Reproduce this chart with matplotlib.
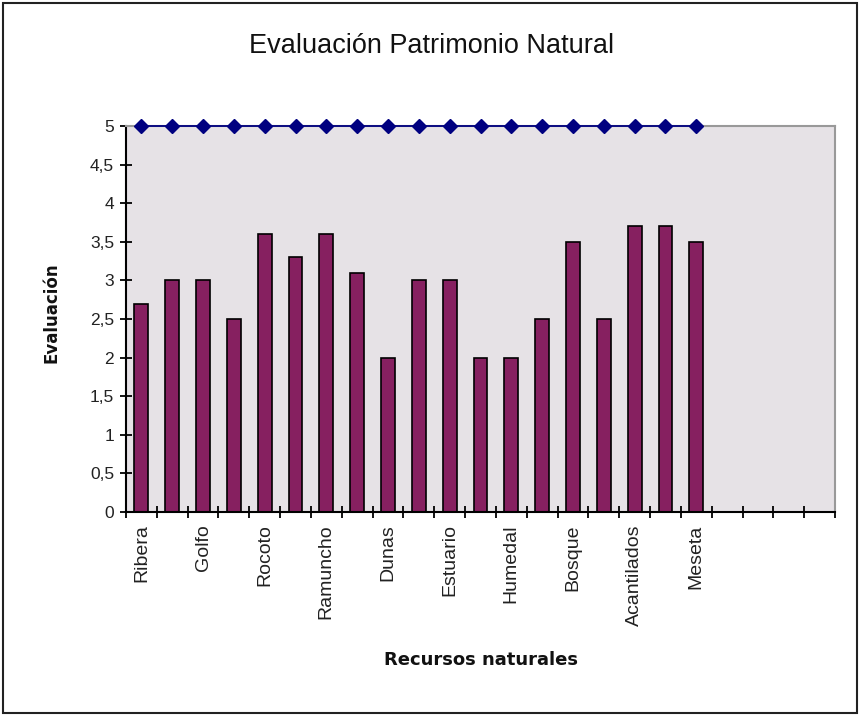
import numpy as np
import matplotlib
matplotlib.use("Agg")
import matplotlib.pyplot as plt
from matplotlib.patches import Rectangle

# data; Excel shows only every other category label
labels = ["Ribera", "", "Golfo", "", "Rocoto", "", "Ramuncho", "", "Dunas", "",
          "Estuario", "", "Humedal", "", "Bosque", "", "Acantilados", "", "Meseta"]
evaluacion = [2.7, 3.0, 3.0, 2.5, 3.6, 3.3, 3.6, 3.1, 2.0, 3.0,
              3.0, 2.0, 2.0, 2.5, 3.5, 2.5, 3.7, 3.7, 3.5]
maximo = [5] * len(evaluacion)
n_slots = 23  # axis has 4 empty categories after the last bar
yticks = [0, 0.5, 1, 1.5, 2, 2.5, 3, 3.5, 4, 4.5, 5]

plt.rcParams["font.family"] = ["Liberation Sans", "DejaVu Sans"]

fig = plt.figure(figsize=(8.63, 7.15), dpi=100)
fig.patches.append(Rectangle((3 / 863, 2 / 715), 854 / 863, 710 / 715, transform=fig.transFigure,
                             fill=False, edgecolor="#222222", lw=1.5))
ax = fig.add_axes([126 / 863, 1 - 512 / 715, 709 / 863, 386 / 715])
ax.set_facecolor("#E6E2E6")

x = np.arange(len(evaluacion))
ax.bar(x, evaluacion, width=0.45, color="#862060", edgecolor="black", lw=1.2, zorder=2)
ax.plot(x, maximo, color="#000080", lw=1.3, marker="D", ms=7, mec="#000080", mfc="#000080",
        zorder=3, clip_on=False)

ax.set_xlim(-0.5, n_slots - 0.5)
ax.set_ylim(0, 5)
ax.set_yticks(yticks)
ax.set_yticklabels([f"{v:g}".replace(".", ",") for v in yticks], fontsize=12.5, color="#222222")
ax.set_xticks(np.arange(n_slots + 1) - 0.5)
ax.set_xticklabels([])
ax.set_xticks(x, minor=True)
ax.set_xticklabels(labels, minor=True, rotation=90, fontsize=14, va="top", color="#222222")
ax.tick_params(axis="x", which="minor", length=0, pad=9)
ax.tick_params(axis="x", which="major", direction="inout", length=9, width=1.3)
ax.tick_params(axis="y", direction="inout", length=9, width=1.3, pad=4)

for s in ("left", "bottom"):
    ax.spines[s].set_linewidth(1.5)
for s in ("top", "right"):
    ax.spines[s].set_color("#999999")
    ax.spines[s].set_linewidth(1.5)

fig.text(0.5, 1 - 46 / 715, "Evaluación Patrimonio Natural", ha="center", va="center",
         fontsize=19.5, color="#111111")
fig.text(52 / 863, 1 - 313 / 715, "Evaluación", rotation=90, ha="center", va="center",
         fontsize=12, fontweight="bold", family="DejaVu Sans", color="#111111")
fig.text(481 / 863, 1 - 660 / 715, "Recursos naturales", ha="center", va="center",
         fontsize=13, fontweight="bold", family="DejaVu Sans", color="#111111")

fig.savefig("out.png", dpi=100)
